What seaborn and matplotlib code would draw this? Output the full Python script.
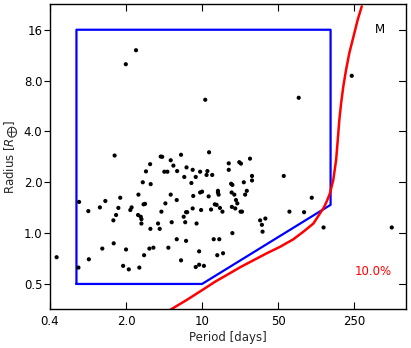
import numpy as np
import pandas as pd
import matplotlib
matplotlib.use("Agg")
import matplotlib.pyplot as plt
import seaborn as sns
from matplotlib.ticker import NullLocator, FixedLocator, FixedFormatter

# planet periods (days) and radii (earth radii)
period = [0.46, 0.73, 0.74, 0.90, 0.91, 1.15, 1.21, 1.29, 1.53, 1.54,
          1.57, 1.62, 1.70, 1.77, 1.88, 1.99, 2.0, 2.12, 2.19, 2.25,
          2.47, 2.58, 2.60, 2.65, 2.73, 2.77, 2.77, 2.85, 2.90, 2.93,
          2.99, 3.05, 3.28, 3.33, 3.37, 3.35, 3.57, 3.94, 4.08, 4.17,
          4.30, 4.23, 4.50, 4.60, 4.80, 4.90, 5.15, 5.15, 5.26, 5.45,
          5.85, 5.9, 5.85, 6.41, 6.41, 6.78, 6.86, 7.0, 7.13, 7.13,
          7.3, 7.2, 7.98, 8.2, 8.2, 8.3, 8.75, 8.75, 8.9, 9.4,
          9.4, 9.6, 9.6, 10.0, 9.8, 10.4, 10.7, 11.0, 11.2, 11.5,
          11.6, 12.1, 12.4, 12.8, 13.1, 13.6, 13.8, 14.0, 14.0, 14.2,
          14.4, 14.6, 15.4, 15.6, 17.6, 17.6, 18.5, 18.7, 18.8, 19.0,
          19.0, 19.8, 20.2, 20.5, 21.1, 22.0, 22.8, 22.6, 23.3, 24.2,
          24.9, 25.8, 27.6, 28.8, 28.8, 34.2, 35.5, 36.0, 38.2, 56.4,
          63.6, 77.4, 86.7, 102, 131, 238, 555]
radius = [0.72, 0.625, 1.53, 1.35, 0.70, 1.42, 0.81, 1.55, 1.19, 0.87,
          2.88, 1.28, 1.41, 1.62, 0.64, 10.0, 0.80, 0.61, 1.37, 1.42,
          12.1, 1.28, 1.69, 0.625, 1.25, 1.21, 1.14, 2.0, 1.48, 0.74,
          1.49, 2.32, 0.81, 2.56, 1.95, 1.06, 0.82, 1.14, 1.06, 2.84,
          2.83, 1.34, 2.31, 1.50, 2.31, 0.82, 2.70, 1.69, 1.16, 2.51,
          1.57, 2.33, 0.92, 2.91, 0.69, 1.25, 2.15, 1.16, 1.33, 0.90,
          1.33, 2.45, 1.98, 2.37, 1.40, 1.66, 2.15, 0.63, 1.14, 0.78,
          0.65, 2.31, 1.74, 1.76, 1.37, 0.64, 6.16, 2.21, 2.33, 1.65,
          3.01, 1.38, 2.21, 0.92, 1.48, 1.47, 0.74, 1.78, 1.74, 1.69,
          0.92, 1.41, 1.34, 0.76, 2.59, 2.37, 1.96, 1.74, 1.43, 1.93,
          1.0, 1.69, 1.40, 1.57, 1.50, 2.63, 2.58, 1.34, 1.34, 2.0,
          1.69, 1.78, 2.76, 2.18, 2.05, 1.19, 1.12, 1.02, 1.22, 2.18,
          1.34, 6.33, 1.33, 1.62, 1.08, 8.54, 1.08]

# selection box
box_period = [0.70, 0.70, 152, 152, 10, 0.70]
box_radius = [0.5, 16, 16, 1.47, 0.5, 0.5]

# 10% detection curve
curve_period = [5.08, 7.23, 10.3, 13.2, 16.9, 22.4, 29.6, 39.4, 52.2, 69.2,
                85.5, 105.7, 121.6, 132, 140, 150, 161, 171, 177, 183,
                190, 199, 211, 226, 247, 270, 294]
curve_radius = [0.351, 0.402, 0.465, 0.516, 0.565, 0.628, 0.69, 0.76, 0.83, 0.92,
                1.02, 1.14, 1.31, 1.42, 1.54, 1.72, 2.07, 2.72, 3.57, 4.69,
                5.88, 7.39, 9.27, 11.64, 14.6, 18.35, 22.0]

xticks = [0.4, 2, 10, 50, 250]
xticklabels = ["0.4", "2.0", "10", "50", "250"]
yticks = [0.5, 1, 2, 4, 8, 16]
yticklabels = ["0.5", "1.0", "2.0", "4.0", "8.0", "16"]

sns.set_style("white")
plt.rcParams["font.family"] = ["DejaVu Sans"]
plt.rcParams["font.size"] = 8.5

planets = pd.DataFrame({"period": period, "radius": radius})
box = pd.DataFrame({"period": box_period, "radius": box_radius})
curve = pd.DataFrame({"period": curve_period, "radius": curve_radius})

fig = plt.figure(figsize=(4.11, 3.48), dpi=100)
ax = fig.add_axes([0.1217, 0.111, 0.8653, 0.8766])

sns.lineplot(data=box, x="period", y="radius", sort=False, estimator=None,
             color="#0000ff", lw=1.6, ax=ax)
sns.lineplot(data=curve, x="period", y="radius", sort=False, estimator=None,
             color="#ff0000", lw=1.8, ax=ax)
sns.scatterplot(data=planets, x="period", y="radius", color="black", s=9,
                edgecolor="none", ax=ax, zorder=3)

ax.set_xscale("log")
ax.set_yscale("log")
ax.set_xlim(0.4, 745)
ax.set_ylim(0.3536, 22.63)
ax.xaxis.set_major_locator(FixedLocator(xticks))
ax.xaxis.set_major_formatter(FixedFormatter(xticklabels))
ax.yaxis.set_major_locator(FixedLocator(yticks))
ax.yaxis.set_major_formatter(FixedFormatter(yticklabels))
ax.xaxis.set_minor_locator(NullLocator())
ax.yaxis.set_minor_locator(NullLocator())

ax.tick_params(axis="x", which="major", direction="in", length=5, width=0.8,
               top=True, bottom=True, labelsize=8.5, pad=4, colors="black")
ax.tick_params(axis="y", which="major", direction="out", length=4, width=0.8,
               left=True, right=False, labelsize=8.5, pad=1.5, colors="black")
for y in yticks:
    ax.plot([1.0, 0.982], [y, y], transform=ax.get_yaxis_transform(),
            color="black", lw=0.8, clip_on=False)

for s in ax.spines.values():
    s.set_color("black")
    s.set_linewidth(1.0)

ax.set_xlabel("Period [days]", fontsize=8.5, labelpad=2)
ax.set_ylabel(r"Radius [$R_{\bigoplus}$]", fontsize=8.5, labelpad=3)

ax.text(0.928, 0.916, "M", transform=ax.transAxes, ha="center", va="center",
        fontsize=8.5, color="black")
ax.text(0.909, 0.123, "10.0%", transform=ax.transAxes, ha="center", va="center",
        fontsize=8.5, color="#ff0000")

fig.savefig("out.png", dpi=100)
